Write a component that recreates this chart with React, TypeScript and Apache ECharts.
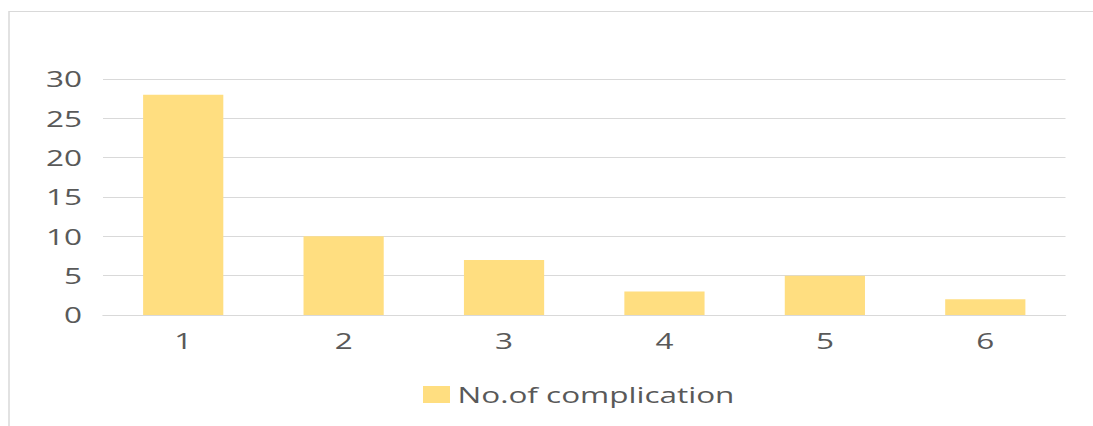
import React, { useEffect, useRef } from "react";
import * as echarts from "echarts";

const categories = ["1", "2", "3", "4", "5", "6"];
const values = [28, 10, 7, 3, 5, 2];
const seriesName = "No.of complication";

// The reference picture is horizontally stretched; we draw at a narrower
// width and stretch the whole SVG horizontally with CSS.
const SX = 1.5;
const W = 1093;
const H = 426;

export default function App() {
  const ref = useRef<HTMLDivElement>(null);
  useEffect(() => {
    const chart = echarts.init(ref.current!, null, { renderer: "svg" });
    chart.setOption({
      animation: false,
      textStyle: { fontFamily: "Open Sans" },
      graphic: [
        {
          type: "rect",
          shape: { x: 9 / SX, y: 11.5, width: 1200 / SX, height: 440 },
          style: { fill: "none", stroke: "#d9d9d9", lineWidth: 1 },
          silent: true,
        },
      ],
      grid: { left: 103 / SX, right: 28 / SX, top: 79, bottom: 111 },
      xAxis: {
        type: "category",
        data: categories,
        axisLine: { show: true, lineStyle: { color: "#d9d9d9", width: 1 } },
        axisTick: { show: false },
        axisLabel: { color: "#595959", fontSize: 21, margin: 15 },
      },
      yAxis: {
        type: "value",
        min: 0,
        max: 30,
        interval: 5,
        axisLine: { show: false },
        axisTick: { show: false },
        axisLabel: { color: "#595959", fontSize: 21, margin: 21 / SX },
        splitLine: { lineStyle: { color: "#d9d9d9", width: 1 } },
      },
      legend: {
        left: 423 / SX,
        top: 384,
        padding: 0,
        itemWidth: 27 / SX,
        itemHeight: 17,
        itemGap: 5,
        icon: "rect",
        textStyle: { color: "#595959", fontSize: 21 },
        data: [seriesName],
      },
      series: [
        {
          name: seriesName,
          type: "bar",
          data: values,
          barWidth: "50%",
          itemStyle: { color: "#FFDE80" },
        },
      ],
    });
    return () => chart.dispose();
  }, []);
  return (
    <div
      style={{ position: "fixed", left: 0, top: 0, width: W, height: H, background: "#fff", overflow: "hidden" }}
    >
      <div
        ref={ref}
        style={{
          width: W / SX,
          height: H,
          transform: `scaleX(${SX})`,
          transformOrigin: "0 0",
        }}
      />
    </div>
  );
}
